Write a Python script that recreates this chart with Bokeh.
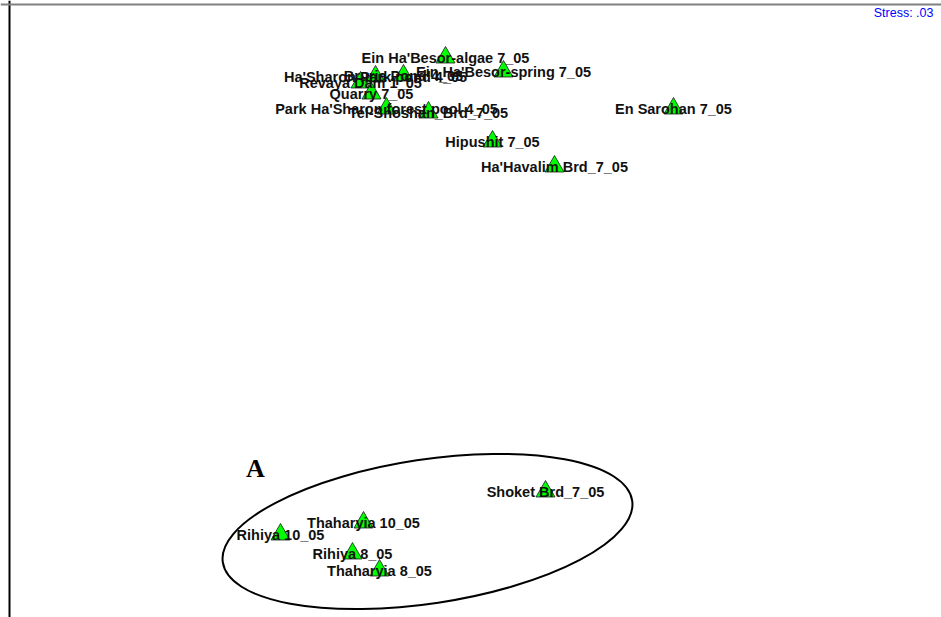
from bokeh.plotting import figure
from bokeh.models import ColumnDataSource, Span, Label
from bokeh.core.properties import value
from bokeh.embed import file_html
from bokeh.resources import INLINE

# 2-D MDS ordination of sampling sites
sites = [
    "Ein Ha'Besor-algae 7_05", "Ein Ha'Besor-spring 7_05", "En Sarohan 7_05",
    "Hipushit 7_05", "Ha'Havalim Brd_7_05",
    "Ha'Sharon Park pond 4_05", "Bruria Pond 4_05", "Revaya Dam 1_05",
    "Quarry 7_05", "Park Ha'Sharon forest pool 4_05", "Tel-Shoshan_Brd_7_05",
    "Shoket Brd_7_05", "Thaharyia 10_05", "Rihiya 10_05", "Rihiya 8_05",
    "Thaharyia 8_05",
]
mds1 = [-0.125, 0.165, 1.015, 0.11, 0.42,
        -0.475, -0.335, -0.55, -0.495, -0.42, -0.21,
        0.375, -0.535, -0.95, -0.59, -0.455]
mds2 = [1.265, 1.195, 1.01, 0.845, 0.72,
        1.17, 1.175, 1.14, 1.085, 1.01, 0.99,
        -0.905, -1.06, -1.12, -1.215, -1.30]

stress = ".03"
group_label = "A"
# group A outline: centre, axes and tilt
grp_x, grp_y, grp_w, grp_h, grp_angle = -0.215, -1.105, 2.07, 0.72, 0.15

src = ColumnDataSource(dict(x=mds1, y=mds2, name=sites))

p = figure(width=941, height=617, output_backend="svg", toolbar_location=None,
           x_range=(-2.35, 2.355), y_range=(-1.535, 1.55),
           min_border=0, outline_line_color=None)
p.axis.visible = False
p.grid.visible = False

# frame lines
p.add_layout(Span(location=-2.305, dimension="height", line_color="black", line_width=2))
p.add_layout(Span(location=1.53, dimension="width", line_color="#808080", line_width=2))

p.ellipse(x=grp_x, y=grp_y, width=grp_w, height=grp_h, angle=grp_angle,
          fill_color=None, line_color="black", line_width=2)

p.scatter("x", "y", source=src, marker="triangle", size=19,
          fill_color="#00ff00", line_color="#1a1a1a", line_width=0.8)

p.text("x", "y", text="name", source=src, text_align="center",
       text_baseline="middle", text_font=value("Liberation Sans"),
       text_font_style="bold", text_font_size="14.5px", text_color="#111111")

p.add_layout(Label(x=-1.075, y=-0.79, text=group_label, text_align="center",
                   text_baseline="middle", text_font="Liberation Serif",
                   text_font_style="bold", text_font_size="26px",
                   text_color="black"))

p.add_layout(Label(x=2.315, y=1.49, text="Stress: " + stress, text_align="right",
                   text_baseline="middle", text_font="Liberation Sans",
                   text_font_size="12.5px", text_color="#0000ff"))

open("out.html", "w").write(file_html(p, INLINE))
